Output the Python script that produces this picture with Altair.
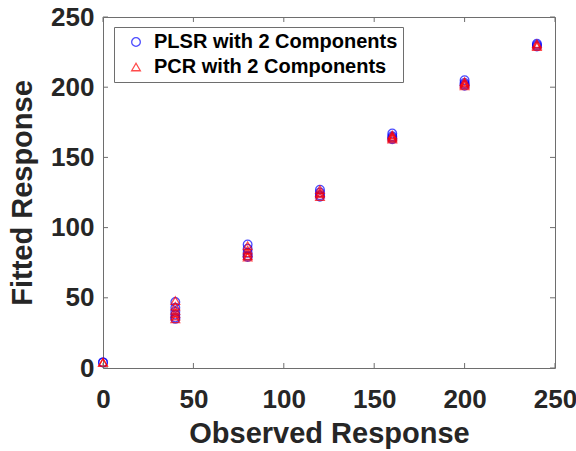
import altair as alt
import pandas as pd

# ---- data ----
observed_plsr = [0, 0,
                 40, 40, 40, 40, 40, 40,
                 80, 80, 80, 80, 80,
                 120, 120, 120, 120,
                 160, 160, 160, 160,
                 200, 200, 200, 200,
                 240, 240, 240]
fitted_plsr = [4, 4,
               47, 43, 40, 38, 36, 35,
               88, 85, 82, 80, 79,
               127, 125, 123, 122,
               167, 165, 164, 163,
               205, 203, 202, 201,
               231, 230, 229]
observed_pcr = [0, 0,
                40, 40, 40, 40, 40, 40,
                80, 80, 80, 80, 80,
                120, 120, 120, 120,
                160, 160, 160, 160,
                200, 200, 200, 200,
                240, 240, 240]
fitted_pcr = [4, 4,
              48, 44, 41, 39, 37, 35,
              87, 84, 82, 80, 79,
              127, 125, 124, 122,
              166, 165, 164, 163,
              204, 203, 202, 201,
              231, 230, 229]
series_names = ["PLSR with 2 Components", "PCR with 2 Components"]
series_colors = ["#0000FF", "#FF0000"]
series_shapes = ["circle", "triangle-up"]
tick_values = [0, 50, 100, 150, 200, 250]

rows = []
for o, f in zip(observed_plsr, fitted_plsr):
    rows.append({"obs": o, "fit": f, "series": series_names[0]})
for o, f in zip(observed_pcr, fitted_pcr):
    rows.append({"obs": o, "fit": f, "series": series_names[1]})
df = pd.DataFrame(rows)
ticks_df = pd.DataFrame({"obs": tick_values, "fit": tick_values})

W, H = 452, 351
FONT = "Liberation Sans"
AXIS_COLOR = "#6e6e6e"
TEXT_COLOR = "#262626"
TL = 5

xscale = alt.Scale(domain=[0, 250], nice=False, zero=False)
yscale = alt.Scale(domain=[0, 250], nice=False, zero=False)
x_axis = alt.Axis(title="Observed Response", values=tick_values, labelPadding=18,
                  titlePadding=7, labelFontSize=26, titleFontSize=29)
y_axis = alt.Axis(title="Fitted Response", values=tick_values, labelPadding=9,
                  titlePadding=13, labelFontSize=26, titleFontSize=29)

points = alt.Chart(df).mark_point(filled=False, size=75, strokeWidth=1.3, clip=False).encode(
    x=alt.X("obs:Q", scale=xscale, axis=x_axis),
    y=alt.Y("fit:Q", scale=yscale, axis=y_axis),
    color=alt.Color("series:N", sort=series_names,
                    scale=alt.Scale(domain=series_names, range=series_colors),
                    legend=alt.Legend(title=None, orient="none", legendX=11, legendY=10)),
    shape=alt.Shape("series:N", sort=series_names,
                    scale=alt.Scale(domain=series_names, range=series_shapes)),
    order=alt.Order("order:Q"),
).transform_calculate(order="datum.series == 'PLSR with 2 Components' ? 0 : 1")

xb = alt.Chart(ticks_df).mark_rule(color=AXIS_COLOR).encode(
    x=alt.X("obs:Q", scale=xscale, axis=x_axis), y=alt.value(H), y2=alt.value(H - TL))
xt = alt.Chart(ticks_df).mark_rule(color=AXIS_COLOR).encode(
    x=alt.X("obs:Q", scale=xscale, axis=x_axis), y=alt.value(0), y2=alt.value(TL))
yl = alt.Chart(ticks_df).mark_rule(color=AXIS_COLOR).encode(
    y=alt.Y("fit:Q", scale=yscale, axis=y_axis), x=alt.value(0), x2=alt.value(TL))
yr = alt.Chart(ticks_df).mark_rule(color=AXIS_COLOR).encode(
    y=alt.Y("fit:Q", scale=yscale, axis=y_axis), x=alt.value(W), x2=alt.value(W - TL))

chart = alt.layer(points, xb, xt, yl, yr).properties(
    width=W, height=H,
    autosize=alt.AutoSizeParams(type="none"),
    padding={"left": 103, "top": 17, "right": 21, "bottom": 83},
    background="white",
).configure_view(
    stroke=AXIS_COLOR, strokeWidth=1
).configure_axis(
    domain=False, ticks=False, grid=False,
    labelFont=FONT, labelFontWeight="bold", labelColor=TEXT_COLOR,
    titleFont=FONT, titleFontWeight="bold", titleColor=TEXT_COLOR,
    labelFlush=False, labelOverlap=False,
).configure_legend(
    labelFont=FONT, labelFontSize=20, labelFontWeight="bold", labelColor="#000000",
    strokeColor=AXIS_COLOR, fillColor="white", padding=5, rowPadding=5,
    symbolSize=75, symbolStrokeWidth=1.3, symbolOffset=7, labelOffset=8,
    labelLimit=400,
)

chart.save("out.html", embed_options={"renderer": "svg", "actions": False})
